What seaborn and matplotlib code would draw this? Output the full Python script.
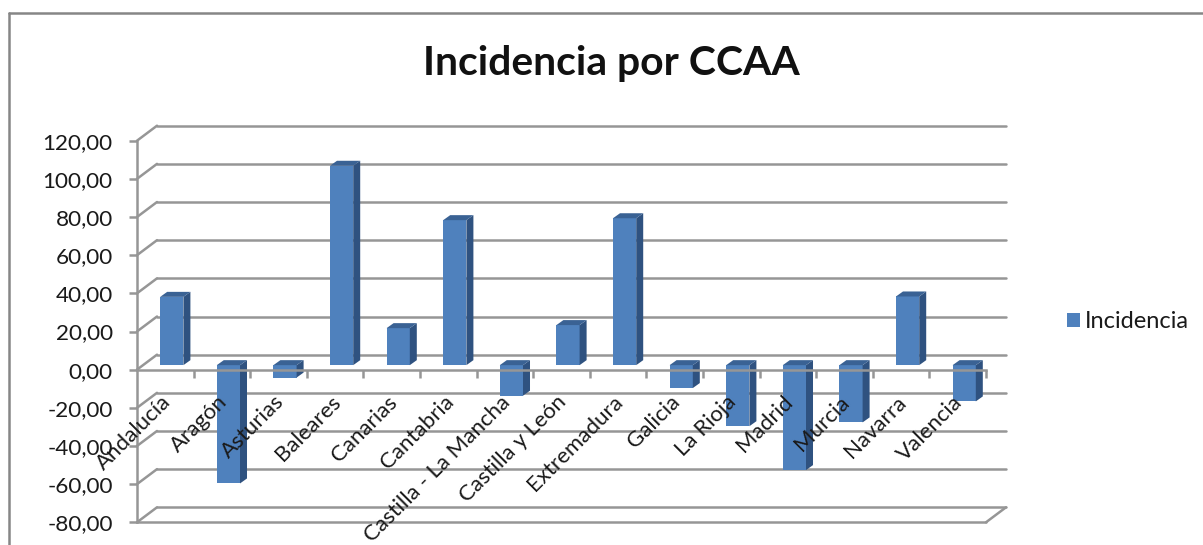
import matplotlib
matplotlib.use('Agg')
import matplotlib.pyplot as plt
from matplotlib.lines import Line2D
from matplotlib.patches import Polygon
from matplotlib.transforms import Affine2D, IdentityTransform
import pandas as pd
import seaborn as sns

sns.set_theme(style='white')
plt.rcParams['font.family'] = ['Lato', 'DejaVu Sans']

comunidades = ['Andalucía', 'Aragón', 'Asturias', 'Baleares', 'Canarias', 'Cantabria',
               'Castilla - La Mancha', 'Castilla y León', 'Extremadura', 'Galicia',
               'La Rioja', 'Madrid', 'Murcia', 'Navarra', 'Valencia']
incidencia = [35.8, -62, -6.5, 104.5, 19.4, 76, -16, 21, 77, -12, -32, -55, -30, 36, -19]
yticks = [120, 100, 80, 60, 40, 20, 0, -20, -40, -60, -80]

W, H = 1203, 545
FRONT = '#4F81BD'
SIDE = '#2F5280'
TOP = '#3A6294'
GRID = '#969696'
TEXT = '#1a1a1a'
lw = 1.8

# pixel offsets of the fake 3d look
wall_dx, wall_dy = 20, 15
bar_dx, bar_dy = 6.5, 4.5
depth_dx, depth_dy = 7, 5

fig = plt.figure(figsize=(W / 100, H / 100), dpi=100)
ax = fig.add_axes([137 / W, 1 - 522.3 / H, (986 - 137) / W, 381.6 / H])
ax.patch.set_alpha(0)

df = pd.DataFrame({'ccaa': comunidades, 'valor': incidencia})
sns.barplot(data=df, x='ccaa', y='valor', color=FRONT, saturation=1, width=0.41,
            label='Incidencia', ax=ax, zorder=2)
ax.set_xlim(-0.5, 14.5)
ax.set_ylim(-80, 120)
ax.set_xlabel('')
ax.set_ylabel('')
ax.set_axisbelow(False)

# back wall and left side lines
wall = ax.transData + Affine2D().translate(wall_dx, wall_dy)
for v in yticks:
    ax.plot([-0.5, 14.5], [v, v], transform=wall, color=GRID, lw=lw, clip_on=False, zorder=1)
    x0, y0 = ax.transData.transform((-0.5, v))
    ax.plot([x0, x0 + wall_dx], [y0, y0 + wall_dy], transform=IdentityTransform(),
            color=GRID, lw=lw, clip_on=False, zorder=1)

# floor
ax.plot([-0.5, 14.5], [-80, -80], color=GRID, lw=lw, clip_on=False, zorder=1)
x0, y0 = ax.transData.transform((14.5, -80))
ax.plot([x0, x0 + wall_dx], [y0, y0 + wall_dy], transform=IdentityTransform(),
        color=GRID, lw=lw, clip_on=False, zorder=1)

# shift the bars and add side + top faces
shift = Affine2D().translate(bar_dx, bar_dy)
for p in list(ax.patches):
    x, y, w, h = p.get_x(), p.get_y(), p.get_width(), p.get_height()
    (xa, ya), (xb, yb) = ax.transData.transform([(x, min(y, y + h)), (x + w, max(y, y + h))])
    xa, xb = xa + bar_dx, xb + bar_dx
    ya, yb = ya + bar_dy, yb + bar_dy
    side = [(xb, ya), (xb + depth_dx, ya + depth_dy), (xb + depth_dx, yb + depth_dy), (xb, yb)]
    top = [(xa, yb), (xa + depth_dx, yb + depth_dy), (xb + depth_dx, yb + depth_dy), (xb, yb)]
    ax.add_patch(Polygon(side, transform=IdentityTransform(), fc=SIDE, ec='none', clip_on=False, zorder=2))
    ax.add_patch(Polygon(top, transform=IdentityTransform(), fc=TOP, ec='none', clip_on=False, zorder=2))
    p.set_transform(ax.transData + shift)
    p.set_clip_on(False)
    p.set_edgecolor('none')

# axes
sns.despine(ax=ax, top=True, right=True)
ax.spines['bottom'].set_position(('data', 0))
for s in ['left', 'bottom']:
    ax.spines[s].set_color(GRID)
    ax.spines[s].set_linewidth(lw)

ax.set_yticks(yticks)
ax.set_yticklabels([f'{v:.2f}'.replace('.', ',') for v in yticks])
ax.tick_params(axis='y', left=True, length=6, width=lw, color=GRID, labelsize=16.2,
               labelcolor=TEXT, pad=11.5)

ax.set_xticks(range(len(comunidades)))
ax.set_xticklabels(comunidades, rotation=45, ha='right', va='top', rotation_mode='anchor')
ax.tick_params(axis='x', bottom=False, length=0, labelsize=16, labelcolor=TEXT, pad=16)
ax.set_xticks([i - 0.5 for i in range(1, len(comunidades) + 1)], minor=True)
ax.tick_params(axis='x', which='minor', bottom=True, length=6, width=lw, color=GRID)
for t in ax.get_xticklabels():
    t.set_transform(t.get_transform() + Affine2D().translate(-5, 0))

fig.text(611 / W, 1 - 63 / H, 'Incidencia por CCAA', fontsize=29.4, fontweight='bold',
         color='#111111', ha='center', va='center')

ax.legend(loc='center left', bbox_to_anchor=(1067 / W, 1 - 322 / H),
          bbox_transform=fig.transFigure, frameon=False, fontsize=17, borderpad=0,
          borderaxespad=0, handlelength=0.55, handleheight=0.55, handletextpad=0.2,
          labelcolor=TEXT)

# chart frame
frame = dict(color='#868686', lw=lw, transform=fig.transFigure)
fig.add_artist(Line2D([9 / W, 9 / W], [0, 1 - 13 / H], **frame))
fig.add_artist(Line2D([9 / W, 1], [1 - 13 / H, 1 - 13 / H], **frame))

fig.savefig('out.png', dpi=100)
